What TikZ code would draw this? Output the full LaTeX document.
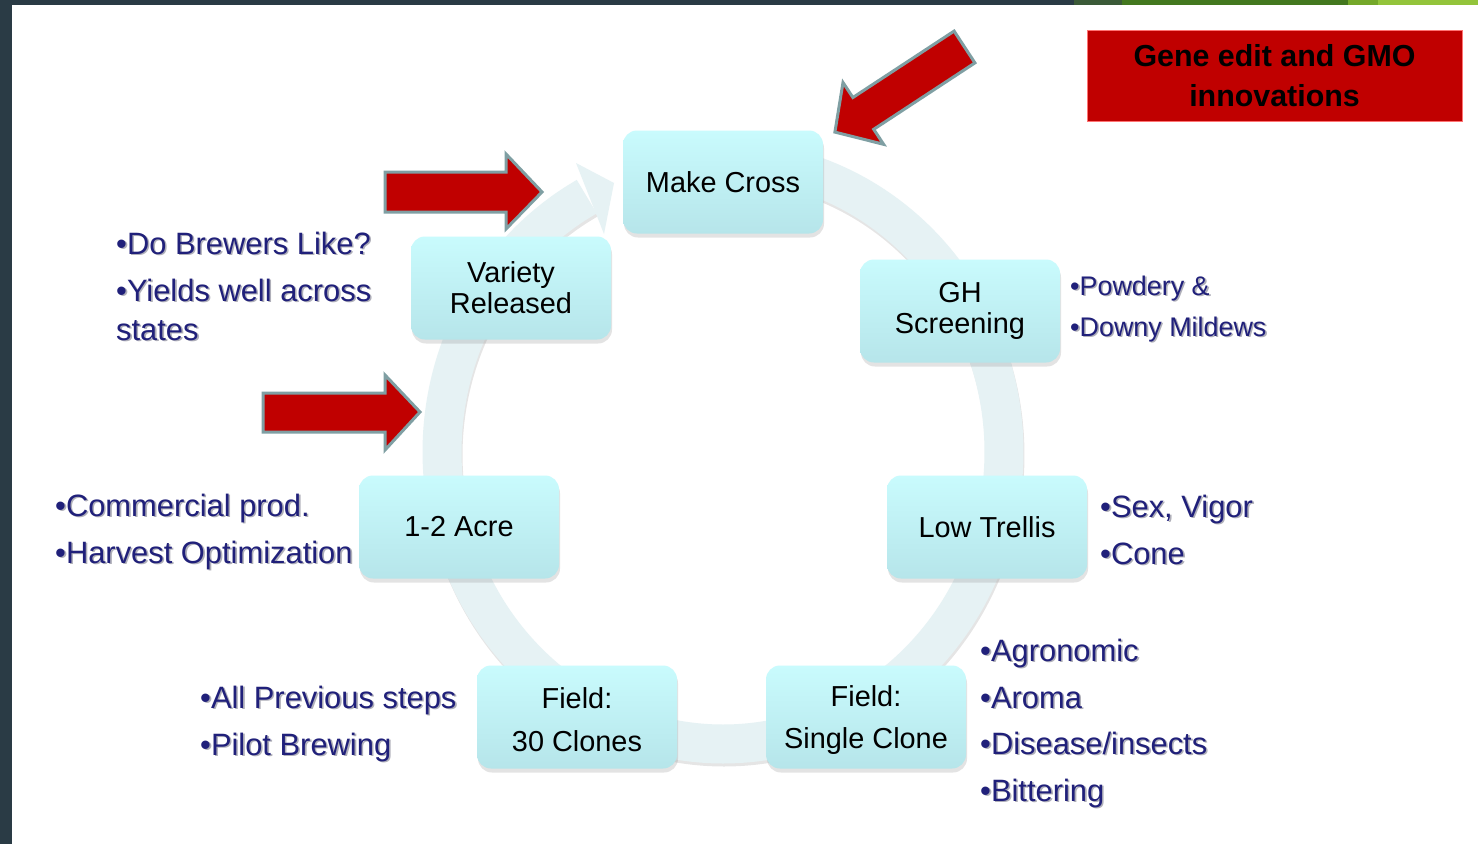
\documentclass[tikz,border=0pt]{standalone}
\usepackage{fontspec}
\setmainfont{Liberation Sans}
\usetikzlibrary{shadows}
\definecolor{barcol}{HTML}{2A3B45}
\definecolor{greenA}{HTML}{3B5A38}
\definecolor{greenB}{HTML}{43781F}
\definecolor{greenC}{HTML}{74A82A}
\definecolor{greenD}{HTML}{93C43B}
\definecolor{ringcol}{HTML}{E6F2F4}
\definecolor{boxtop}{HTML}{C9FBFD}
\definecolor{boxbot}{HTML}{B6E5EA}
\definecolor{redfill}{HTML}{C00000}
\definecolor{redline}{HTML}{7F9FA3}
\definecolor{navy}{RGB}{32,32,122}
\definecolor{shadowgray}{RGB}{175,175,185}
\newcommand\shd[1]{\leavevmode\rlap{\kern1.6bp\raisebox{-1.6bp}{\textcolor{shadowgray}{#1}}}#1}
\begin{document}
\begin{tikzpicture}[x=1bp,y=-1bp,
  stepbox/.style={rounded corners=14bp, minimum width=200bp, minimum height=103bp,
    top color=boxtop, bottom color=boxbot, draw=none, align=center,
    font=\fontsize{29}{31}\selectfont, inner sep=0pt,
    drop shadow={shadow xshift=1bp, shadow yshift=-4bp, opacity=0.22}},
  steptext/.style={align=center, font=\fontsize{29}{31}\selectfont, inner sep=0pt},
  bultext/.style={anchor=base west, inner sep=0pt, text=navy, font=\fontsize{31}{36}\selectfont},
  smallbul/.style={bultext, font=\fontsize{27}{32}\selectfont},
  redarrow/.style={fill=redfill, draw=redline, line width=3bp, line join=miter},
]
\useasboundingbox (0,0) rectangle (1478,844);
\fill[white] (0,0) rectangle (1478,844);
% frame bars
\fill[barcol] (0,0) rectangle (1478,5);
\fill[barcol] (0,0) rectangle (12,844);
\fill[greenA] (1074,0) rectangle (1122,5);
\fill[greenB] (1122,0) rectangle (1348,5);
\fill[greenC] (1348,0) rectangle (1378,5);
\fill[greenD] (1378,0) rectangle (1478,5);

% circular arrow
\draw[black, opacity=0.10, line width=39bp] plot[smooth, domain=262:601, samples=120] ({724+281*cos(\x)},{455+292*sin(\x)});
\draw[ringcol, line width=39bp] plot[smooth, domain=262:601, samples=120] ({723+281*cos(\x)},{452+292*sin(\x)});
\fill[ringcol] (576,163) -- (614,183) -- (604,234) -- cycle;

% steps
\node[stepbox] (cross) at (723,182) {Make Cross};
\node[stepbox] (gh) at (960,311) {GH\\Screening};
\node[stepbox] (trellis) at (987,527) {Low Trellis};
\node[stepbox] (single) at (866,717) {};
\node[steptext] (singletext) at (866,720) {Field:\\[12bp]Single Clone};
\node[stepbox] (clones) at (577,717) {};
\node[steptext] (clonestext) at (577,720) {Field:\\[12bp]30 Clones};
\node[stepbox] (acre) at (459,527) {1-2 Acre};
\node[stepbox] (variety) at (511,288) {Variety\\Released};

% red box
\node[fill=redfill, draw=red!55!white, line width=1bp, minimum width=375bp, minimum height=90bp,
  align=center, inner sep=0pt, font=\bfseries\fontsize{30.5}{40}\selectfont] (gmo) at (1274.5,76)
  {Gene edit and GMO\\innovations};

% red arrows
\draw[redarrow] (385,172) -- (506,172) -- (506,154) -- (542,192) -- (506,229) -- (506,212) -- (385,212) -- cycle;
\draw[redarrow] (263,393) -- (385,393) -- (385,375) -- (420,412) -- (385,450) -- (385,432) -- (263,432) -- cycle;
\draw[redarrow] (954.1,31.1) -- (974.9,62.9) -- (873.7,129.3) -- (883.6,144.3) -- (834.9,132.1) -- (843.0,82.5) -- (852.9,97.5) -- cycle;

% notes
\node[bultext] (n1) at (116,254) {\shd{•Do Brewers Like?}};
\node[bultext] (n2) at (116,301) {\shd{•Yields well across}};
\node[bultext] (n3) at (116,340) {\shd{states}};
\node[smallbul] (n4) at (1070,295) {\shd{•Powdery \&}};
\node[smallbul] (n5) at (1070,336) {\shd{•Downy Mildews}};
\node[bultext] (n6) at (1100,517) {\shd{•Sex, Vigor}};
\node[bultext] (n7) at (1100,564) {\shd{•Cone}};
\node[bultext] (n8) at (980,661) {\shd{•Agronomic}};
\node[bultext] (n9) at (980,708) {\shd{•Aroma}};
\node[bultext] (n10) at (980,754) {\shd{•Disease/insects}};
\node[bultext] (n11) at (980,801) {\shd{•Bittering}};
\node[bultext] (n12) at (200,708) {\shd{•All Previous steps}};
\node[bultext] (n13) at (200,755) {\shd{•Pilot Brewing}};
\node[bultext] (n14) at (55,516) {\shd{•Commercial prod.}};
\node[bultext] (n15) at (55,563) {\shd{•Harvest Optimization}};
\end{tikzpicture}
\end{document}
